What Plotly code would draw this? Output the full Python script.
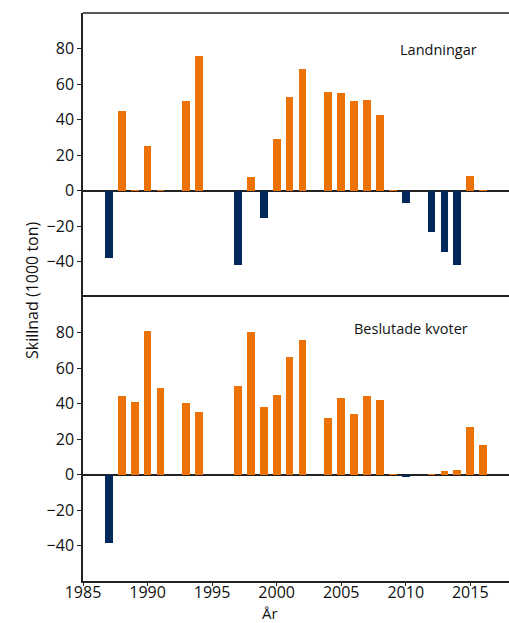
import plotly.graph_objects as go
from plotly.subplots import make_subplots

years = list(range(1987, 2017))
landningar = [-38, 45, 0.2, 25, 0.2, None, 50.7, 76, None, None,
              -42, 7.7, -15.4, 29.2, 52.4, 68.2, None, 55.7, 55.2, 50.7,
              51.2, 42.7, 0.2, -6.8, None, -23.2, -34.7, -42, 8.3, 0.2]
kvoter = [-38.7, 44.1, 40.8, 80.8, 48.6, None, 40.2, 35.1, None, None,
          49.8, 80.2, 37.9, 44.7, 66.1, 75.7, None, 31.7, 43.0, 34.0,
          44.1, 41.9, 0.2, -1.5, None, 0.2, 1.9, 2.4, 26.7, 16.5]
y_ticks = [-40, -20, 0, 20, 40, 60, 80]
x_ticks = [1985, 1990, 1995, 2000, 2005, 2010, 2015]

ORANGE = "#EC7206"
NAVY = "#00285A"

def colors(vals):
    return [NAVY if (v is not None and v < 0) else ORANGE for v in vals]

fig = make_subplots(rows=2, cols=1, shared_xaxes=True, vertical_spacing=0)
fig.add_trace(go.Bar(x=years, y=landningar, marker=dict(color=colors(landningar), line=dict(width=0)),
                     width=0.6, showlegend=False), row=1, col=1)
fig.add_trace(go.Bar(x=years, y=kvoter, marker=dict(color=colors(kvoter), line=dict(width=0)),
                     width=0.6, showlegend=False), row=2, col=1)

font_family = "Open Sans, Noto Sans, DejaVu Sans, sans-serif"
for r in (1, 2):
    fig.update_yaxes(range=[-60, 100], tickvals=y_ticks, ticks="outside", ticklen=4,
                     tickcolor="#222", showgrid=False, zeroline=True, zerolinecolor="#222",
                     zerolinewidth=1.5, showline=True, linecolor="#222", linewidth=1.5,
                     tickfont=dict(size=16, color="#111"), row=r, col=1)
    fig.update_xaxes(range=[1985, 2018], tickvals=x_ticks, showgrid=False, zeroline=False,
                     row=r, col=1)
fig.update_xaxes(ticks="outside", ticklen=3, tickcolor="#222", showline=True, linecolor="#222",
                 linewidth=1.5, mirror=True, ticklabelstandoff=-7,
                 tickfont=dict(size=16, color="#111"), row=2, col=1)
fig.update_xaxes(showticklabels=False, ticks="", showline=False, row=1, col=1)

# top border of the upper panel
fig.add_shape(type="line", xref="paper", yref="paper", x0=0, x1=1, y0=1, y1=1,
              line=dict(color="#222", width=1.5))

fig.add_annotation(text="Landningar", x=2012.5, y=79.4, xref="x", yref="y",
                   showarrow=False, font=dict(size=14.5, color="#111"))
fig.add_annotation(text="Beslutade kvoter", x=2010.4, y=82.4, xref="x2", yref="y2",
                   showarrow=False, font=dict(size=14.5, color="#111"))
fig.add_annotation(text="År", x=(270 - 83) / 426, y=(581 - 613) / 568, xref="paper", yref="paper",
                   xanchor="center", yanchor="middle", showarrow=False,
                   font=dict(size=15, color="#111"))
fig.add_annotation(text="Skillnad (1000 ton)", x=(32 - 83) / 426, y=(581 - 290) / 568,
                   xref="paper", yref="paper", xanchor="center", yanchor="middle",
                   showarrow=False, textangle=-90, font=dict(size=16, color="#111"))

fig.update_layout(width=509, height=623, margin=dict(l=83, r=0, t=13, b=42),
                  paper_bgcolor="white", plot_bgcolor="white", bargap=0,
                  font=dict(family=font_family, color="#111"))
fig.write_html("out.html")
